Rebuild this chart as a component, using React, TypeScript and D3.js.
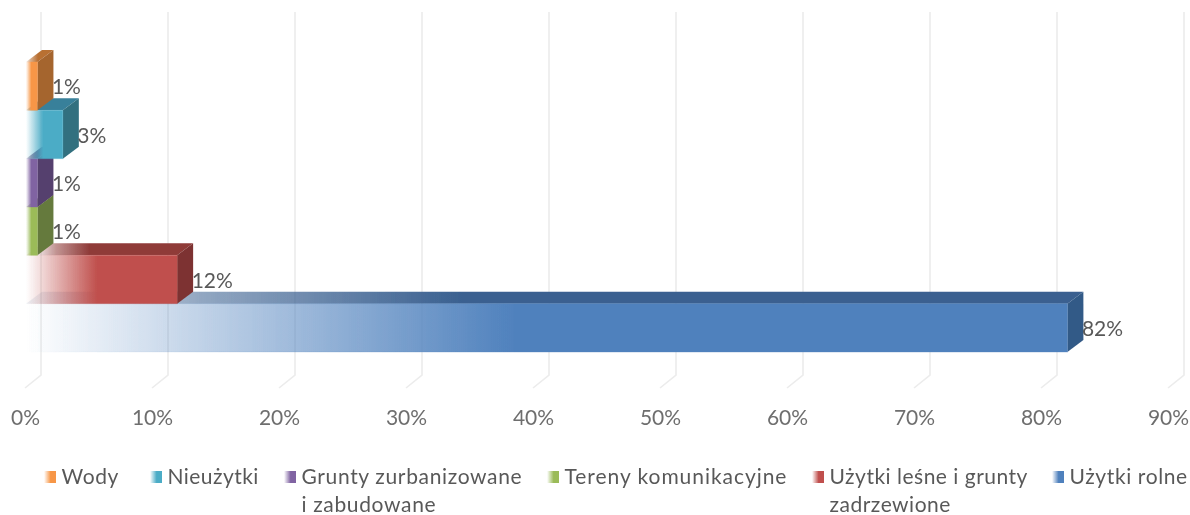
import React from "react";
import * as d3 from "d3";

const categories = ["Wody", "Nieużytki", "Grunty zurbanizowane i zabudowane", "Tereny komunikacyjne", "Użytki leśne i grunty zadrzewione", "Użytki rolne"];
const values = [0.9, 2.9, 0.9, 0.9, 11.9, 82];
const labels = ["1%", "3%", "1%", "1%", "12%", "82%"];
const frontColors = ["#f79646", "#4bacc6", "#8064a2", "#9bbb59", "#c0504d", "#4f81bd"];
const topColors = ["#b86f32", "#38809a", "#5f4a79", "#738b42", "#8f3b39", "#3a6090"];
const sideColors = ["#a5652f", "#31707f", "#553f6e", "#657a3c", "#7d3331", "#335a87"];
const ticks = [0, 10, 20, 30, 40, 50, 60, 70, 80, 90];
const legendLines = [["Wody"], ["Nieużytki"], ["Grunty zurbanizowane", "i zabudowane"], ["Tereny komunikacyjne"], ["Użytki leśne i grunty", "zadrzewione"], ["Użytki rolne"]];
const legendX = [44, 150, 284, 547, 812, 1052];
const legendSpacing = [0.6, 0.45, 0.65, 0.95, 0.5, 0.62];
const drawOrder = [5, 4, 3, 2, 1, 0];

const W = 1190, H = 515;
const DX = 16, DY = -12;
const x = d3.scaleLinear().domain([0, 90]).range([26, 1169]);
const y = d3.scaleBand<number>().domain(d3.range(categories.length)).range([62, 352]);
const poly = (p: [number, number][]) => (d3.line()(p) || "") + "Z";
const FONT = "Lato, 'Open Sans', sans-serif";

export default function App() {
  return (
    <svg width={W} height={H} viewBox={`0 0 ${W} ${H}`} style={{ position: "absolute", left: 0, top: 0, background: "#fff" }}>
      <defs>
        <filter id="soft" x="-5%" y="-5%" width="110%" height="110%"><feGaussianBlur stdDeviation="0.45" /></filter>
        {categories.map((_, i) => {
          const x1 = x(0), x2 = x(values[i]);
          const narrow = values[i] < 5;
          return (
            <React.Fragment key={i}>
              <linearGradient id={`f${i}`} gradientUnits="userSpaceOnUse" x1={x1} x2={x1 + (x2 - x1) * 0.47} y1={0} y2={0}>
                <stop offset="0" stopColor={frontColors[i]} stopOpacity={0} />
                <stop offset="1" stopColor={frontColors[i]} stopOpacity={1} />
              </linearGradient>
              <linearGradient id={`t${i}`} gradientUnits="userSpaceOnUse" x1={narrow ? x1 : x1 + DX - 6} x2={narrow ? x1 + 12 : x1 + (x2 - x1) * 0.42} y1={0} y2={0}>
                <stop offset="0" stopColor={topColors[i]} stopOpacity={0.1} />
                <stop offset="0.38" stopColor={topColors[i]} stopOpacity={0.55} />
                <stop offset="1" stopColor={topColors[i]} stopOpacity={1} />
              </linearGradient>
              <linearGradient id={`l${i}`} x1="0" x2="1" y1="0" y2="0">
                <stop offset="0" stopColor={frontColors[i]} stopOpacity={0} />
                <stop offset="0.55" stopColor={frontColors[i]} />
              </linearGradient>
            </React.Fragment>
          );
        })}
      </defs>
      <g filter="url(#soft)">
        {ticks.map((t) => (
          <path key={t} d={d3.line()([[x(t) + DX - 1, 12], [x(t) + DX - 1, 375], [x(t) - 1, 388]]) || ""} fill="none" stroke="#ececec" strokeWidth={1.6} />
        ))}
        {drawOrder.map((i) => {
          const x0 = x(0), x1 = x(values[i]), y0 = y(i)!, y1 = y0 + y.bandwidth();
          return (
            <g key={i}>
              <path d={poly([[x0, y0], [x0 + DX, y0 + DY], [x1 + DX, y0 + DY], [x1, y0]])} fill={`url(#t${i})`} />
              <path d={poly([[x1, y0], [x1 + DX, y0 + DY], [x1 + DX, y1 + DY], [x1, y1]])} fill={sideColors[i]} />
              <rect x={x0} y={y0} width={x1 - x0} height={y1 - y0} fill={`url(#f${i})`} stroke={`url(#f${i})`} strokeOpacity={0.35} strokeWidth={1} />
            </g>
          );
        })}
        {categories.map((_, i) => (
          <text key={i} x={x(values[i]) + DX - 1.5} y={y(i)! + y.bandwidth() / 2 + 3} dominantBaseline="middle" fontFamily={FONT} fontSize={21} fill="#595959">{labels[i]}</text>
        ))}
        {ticks.map((t) => (
          <text key={t} x={x(t) - 0.5} y={420} textAnchor="middle" dominantBaseline="middle" fontFamily={FONT} fontSize={21} fill="#6e6e6e">{t}%</text>
        ))}
        {legendLines.map((lines, i) => (
          <g key={i}>
            <rect x={legendX[i]} y={471} width={12} height={12} fill={`url(#l${i})`} />
            {lines.map((line, j) => (
              <text key={j} x={legendX[i] + 17.5} y={479 + j * 28} dominantBaseline="middle" fontFamily={FONT} fontSize={21} fill="#595959" letterSpacing={legendSpacing[i]}>{line}</text>
            ))}
          </g>
        ))}
      </g>
    </svg>
  );
}
